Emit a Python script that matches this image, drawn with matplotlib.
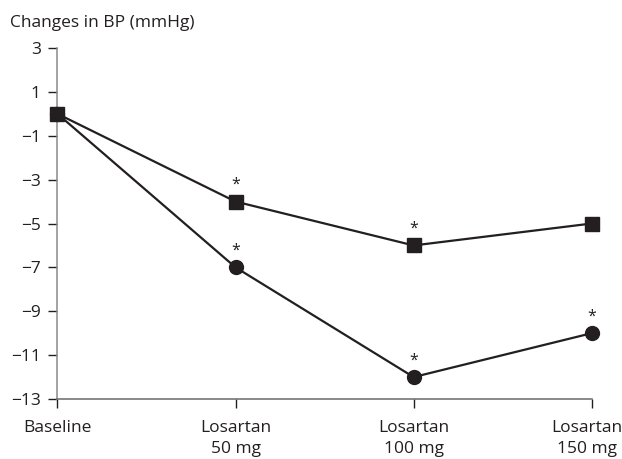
import matplotlib
matplotlib.use("Agg")
import matplotlib.pyplot as plt
import matplotlib.transforms as mtransforms

categories = ["Baseline", "Losartan\n50 mg", "Losartan\n100 mg", "Losartan\n150 mg"]
square_vals = [0, -4, -6, -5]
circle_vals = [0, -7, -12, -10]
square_sig = [False, True, True, False]
circle_sig = [False, True, True, True]
yticks = [3, 1, -1, -3, -5, -7, -9, -11, -13]

plt.rcParams['font.family'] = ['Open Sans', 'DejaVu Sans']
dark = "#231f20"
fs = 12.5

fig = plt.figure(figsize=(6.22, 4.59), dpi=100)
ax = fig.add_axes([0.0924, 0.1307, 0.8589, 0.7647])
x = list(range(len(categories)))

ax.plot(x, square_vals, color=dark, lw=1.6, marker='s', ms=10.3, zorder=3, clip_on=False)
ax.plot(x, circle_vals, color=dark, lw=1.6, marker='o', ms=10, zorder=3, clip_on=False)

for vals, sig in ((square_vals, square_sig), (circle_vals, circle_sig)):
    for xi, v, s in zip(x, vals, sig):
        if s:
            ax.annotate("*", (xi, v), xytext=(0, 12), textcoords='offset points',
                        ha='center', va='center', fontsize=11.5, color=dark)

ax.set_xlim(0, 3)
ax.set_ylim(-13, 3)
ax.set_yticks(yticks)
ax.set_xticks(x)
ax.set_xticklabels(categories, fontsize=fs, color=dark, linespacing=1.45)
ax.tick_params(axis='y', labelsize=fs, labelcolor=dark, color=dark, direction='out',
               length=6.5, width=1, pad=5.5)
ax.tick_params(axis='x', labelcolor=dark, color=dark, direction='out',
               length=6.5, width=1, pad=8.5)

# keep the last label inside the figure edge
last = ax.get_xticklabels()[-1]
last.set_transform(last.get_transform() + mtransforms.ScaledTranslation(-5/100, 0, fig.dpi_scale_trans))

for sp in ['top', 'right']:
    ax.spines[sp].set_visible(False)
ax.spines['left'].set_color('#8a8a8a')
ax.spines['bottom'].set_color('#6a6a6a')
ax.spines['left'].set_linewidth(1.1)
ax.spines['bottom'].set_linewidth(1.1)

fig.text(10/622, 1 - 27/459, "Changes in BP (mmHg)", fontsize=fs, color=dark,
         ha='left', va='baseline')

fig.savefig("out.png", dpi=100)
